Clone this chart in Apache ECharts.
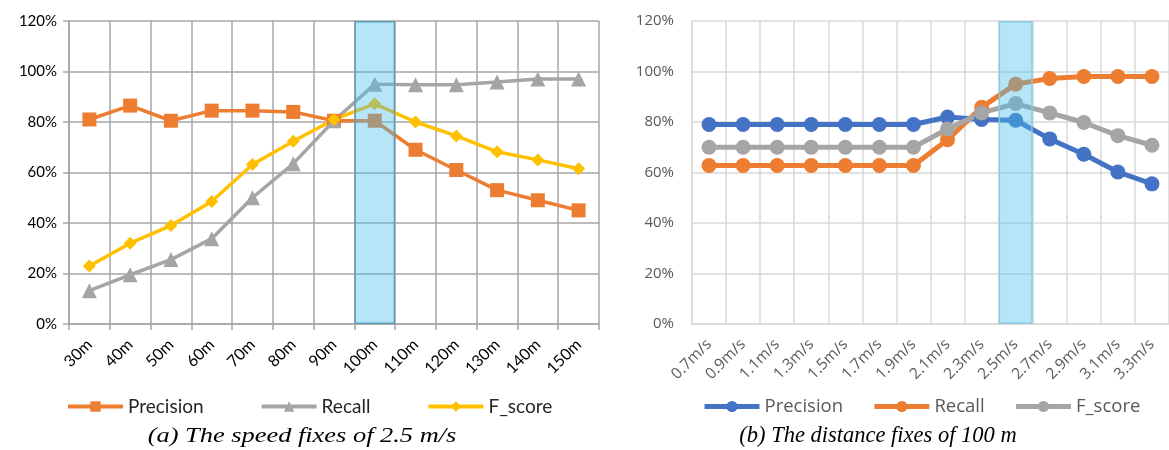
<!DOCTYPE html>
<html>
<head>
<meta charset="utf-8">
<script src="https://cdn.jsdelivr.net/npm/echarts@6/dist/echarts.min.js"></script>
<style>html,body{margin:0;padding:0;background:#fff;}#c{width:1169px;height:450px;}</style>
</head>
<body>
<div id="c"></div>
<script>
// ---- data ----
const catsA = ['30m','40m','50m','60m','70m','80m','90m','100m','110m','120m','130m','140m','150m'];
const precisionA = [81, 86.5, 80.5, 84.5, 84.5, 84, 80.5, 80.5, 69, 61, 53, 49, 45];
const recallA = [13.2, 19.5, 25.5, 33.8, 50, 63.5, 80.5, 95, 94.8, 94.8, 95.8, 97, 97];
const fscoreA = [23, 32, 39, 48.5, 63.2, 72.4, 81, 87.2, 80, 74.5, 68.2, 65, 61.5];
const highlightA = '100m';

const catsB = ['0.7m/s','0.9m/s','1.1m/s','1.3m/s','1.5m/s','1.7m/s','1.9m/s','2.1m/s','2.3m/s','2.5m/s','2.7m/s','2.9m/s','3.1m/s','3.3m/s'];
const precisionB = [79, 79, 79, 79, 79, 79, 79, 82, 81, 80.7, 73.3, 67.2, 60.2, 55.5];
const recallB = [62.8, 62.8, 62.8, 62.8, 62.8, 62.8, 62.8, 73, 85.8, 95, 97.2, 98, 98, 98];
const fscoreB = [70, 70, 70, 70, 70, 70, 70, 77.2, 83.6, 87.3, 83.6, 79.8, 74.6, 70.8];
const highlightB = '2.5m/s';

const yTicks = {min: 0, max: 120, interval: 20};
const captionA = '(a) The speed fixes of 2.5 m/s';
const captionB = '(b) The distance fixes of 100 m';

// ---- chart ----
const chart = echarts.init(document.getElementById('c'), null, {renderer: 'canvas'});
const bandData = (cats, hl) => cats.map(c => c === hl ? yTicks.max : null);

const gridA = '#a6a6a6', gridB = '#d9d9d9';
const fontA = 'Lato', fontB = 'Open Sans';

function lineSeries(name, data, color, symbol, size, xi, lw) {
  return {
    name, type: 'line', data, xAxisIndex: xi, yAxisIndex: xi,
    symbol, symbolSize: size, showSymbol: true,
    lineStyle: {color, width: lw}, itemStyle: {color},
    animation: false, z: 3
  };
}
function bandSeries(cats, hl, xi, border) {
  return {
    name: 'band' + xi, type: 'bar', data: bandData(cats, hl),
    xAxisIndex: xi, yAxisIndex: xi, barWidth: '100%', barGap: '-100%',
    itemStyle: {color: 'rgba(70,190,235,0.4)', borderColor: border, borderWidth: 1.5},
    z: 10, silent: true, animation: false
  };
}

chart.setOption({
  animation: false,
  grid: [
    {left: 69, top: 21, width: 530, height: 303},
    {left: 692, top: 21, width: 484, height: 303}
  ],
  xAxis: [
    {type: 'category', gridIndex: 0, data: catsA, boundaryGap: true,
     axisLine: {show: true, lineStyle: {color: gridA, width: 1.5}},
     axisTick: {show: true, length: 6, interval: 0, lineStyle: {color: gridA, width: 1.5}},
     splitLine: {show: true, interval: 0, lineStyle: {color: gridA, width: 1.5}},
     axisLabel: {rotate: 45, interval: 0, margin: 18, color: '#000', fontFamily: fontA, fontSize: 16}},
    {type: 'category', gridIndex: 1, data: catsB, boundaryGap: true,
     axisLine: {show: true, lineStyle: {color: gridB, width: 1.5}},
     axisTick: {show: false},
     splitLine: {show: true, interval: 0, lineStyle: {color: gridB, width: 1.5}},
     axisLabel: {rotate: 45, interval: 0, margin: 18, color: '#595959', fontFamily: fontB, fontSize: 15.5}}
  ],
  yAxis: [
    {type: 'value', gridIndex: 0, min: yTicks.min, max: yTicks.max, interval: yTicks.interval,
     axisLine: {show: true, lineStyle: {color: gridA, width: 1.5}},
     axisTick: {show: true, length: 6, lineStyle: {color: gridA, width: 1.5}},
     splitLine: {show: true, lineStyle: {color: gridA, width: 1.5}},
     axisLabel: {formatter: '{value}%', color: '#000', fontFamily: fontA, fontSize: 15, margin: 12}},
    {type: 'value', gridIndex: 1, min: yTicks.min, max: yTicks.max, interval: yTicks.interval,
     axisLine: {show: true, lineStyle: {color: gridB, width: 1.5}},
     axisTick: {show: false},
     splitLine: {show: true, lineStyle: {color: gridB, width: 1.5}},
     axisLabel: {formatter: '{value}%', color: '#595959', fontFamily: fontB, fontSize: 15, margin: 18}}
  ],
  legend: [
    {data: ['Precision', 'Recall', 'F_score'], left: 61, top: 392,
     itemWidth: 55, itemHeight: 13, itemGap: 56,
     lineStyle: {width: 4},
     textStyle: {fontFamily: fontA, fontSize: 19, color: '#262626'}},
    {data: ['Precision ', 'Recall ', 'F_score '], left: 697, top: 392,
     itemWidth: 55, itemHeight: 14, itemGap: 24,
     lineStyle: {width: 5},
     textStyle: {fontFamily: fontB, fontSize: 18.5, color: '#595959'}}
  ],
  series: [
    lineSeries('Precision', precisionA, '#ED7D31', 'rect', 14, 0, 3.5),
    lineSeries('Recall', recallA, '#A5A5A5', 'triangle', 15, 0, 3.5),
    lineSeries('F_score', fscoreA, '#FFC000', 'diamond', 13, 0, 3.5),
    bandSeries(catsA, highlightA, 0, '#5e9fbb'),
    lineSeries('Precision ', precisionB, '#4472C4', 'circle', 15, 1, 5),
    lineSeries('Recall ', recallB, '#ED7D31', 'circle', 15, 1, 5),
    lineSeries('F_score ', fscoreB, '#A5A5A5', 'circle', 15, 1, 5),
    bandSeries(catsB, highlightB, 1, '#8ccbe2')
  ],
  graphic: [
    {type: 'text', x: 302, y: 425, scaleX: 1.2, style: {text: captionA, fontFamily: 'Liberation Serif', fontStyle: 'italic', fontSize: 22, fill: '#000', textAlign: 'center'}},
    {type: 'text', x: 878, y: 425, style: {text: captionB, fontFamily: 'Liberation Serif', fontStyle: 'italic', fontSize: 22.5, fill: '#000', textAlign: 'center'}}
  ]
});
</script>
</body>
</html>
